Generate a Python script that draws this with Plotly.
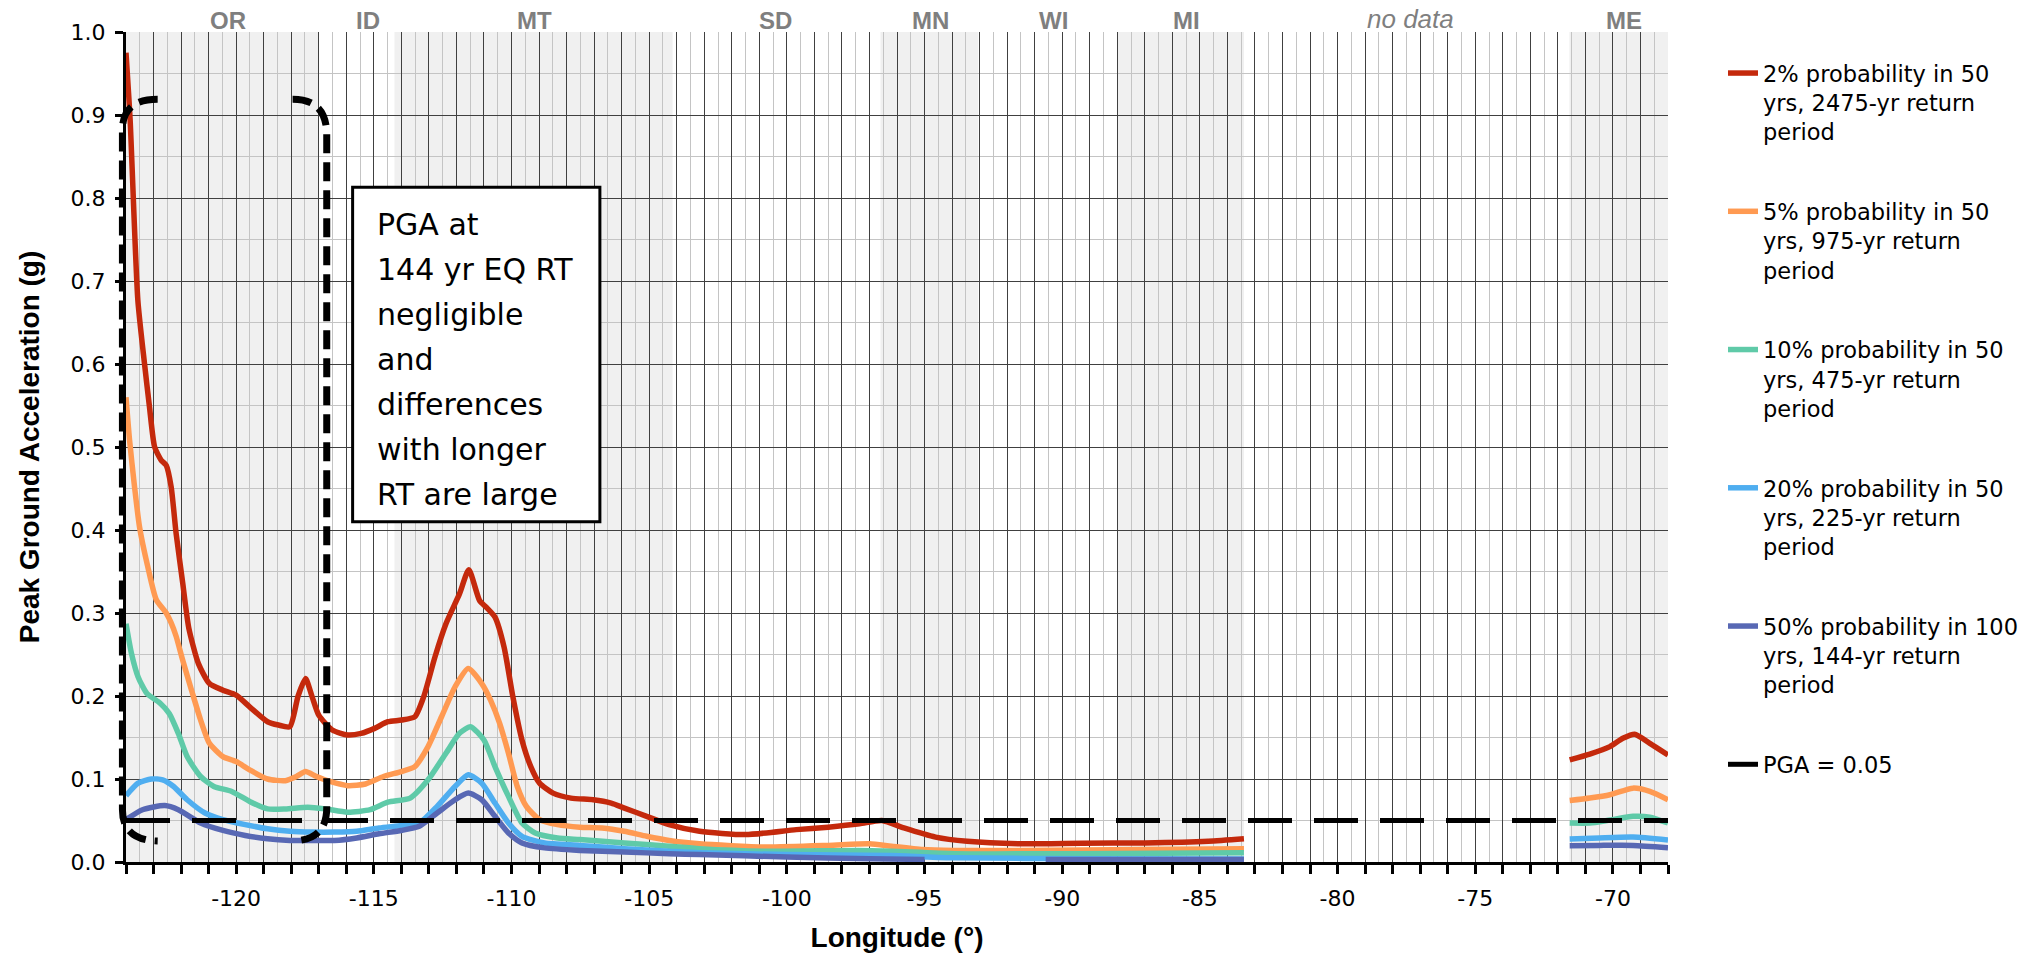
import plotly.graph_objects as go

# ---------------- data (longitude in degrees, PGA in g) ----------------
LON_MIN, LON_MAX = -124, -68

RED_W_LON = [-124.0, -123.85, -123.57, -123.33, -123.15, -122.96, -122.72, -122.54, -122.36, -122.18,
             -121.94, -121.72, -121.37, -120.97, -120.48, -120.0, -119.51, -118.86, -118.46, -118.05,
             -117.75, -117.48, -117.24, -117.0, -116.51, -115.95, -115.46, -114.97, -114.49, -114.0,
             -113.51, -113.19, -112.78, -112.38, -111.89, -111.55, -111.16, -110.92, -110.6, -110.27,
             -109.95, -109.62, -109.3, -108.98, -108.49, -107.84, -107.03, -106.38, -105.9, -105.09,
             -104.28, -103.17, -101.5, -99.66, -98.5, -97.36, -96.55, -95.75, -94.6, -93.45,
             -91.6, -89.3, -87.0, -84.7, -83.4]
RED_W_PGA = [0.975, 0.894, 0.677, 0.601, 0.549, 0.500, 0.484, 0.478, 0.452, 0.396,
             0.336, 0.282, 0.239, 0.215, 0.207, 0.201, 0.187, 0.169, 0.165, 0.163,
             0.200, 0.221, 0.199, 0.177, 0.159, 0.153, 0.155, 0.161, 0.169, 0.171,
             0.175, 0.199, 0.247, 0.287, 0.323, 0.352, 0.315, 0.307, 0.295, 0.259,
             0.199, 0.147, 0.115, 0.095, 0.083, 0.077, 0.075, 0.071, 0.065, 0.055,
             0.045, 0.037, 0.033, 0.039, 0.042, 0.046, 0.050, 0.041, 0.030, 0.025,
             0.022, 0.0226, 0.023, 0.025, 0.028]
RED_E_LON = [-71.57, -70.84, -70.11, -69.64, -69.21, -68.66, -68.0]
RED_E_PGA = [0.123, 0.130, 0.139, 0.149, 0.154, 0.143, 0.129]

ORANGE_W_LON = [-124.0, -123.87, -123.69, -123.51, -123.21, -122.9, -122.54, -122.36, -122.18, -121.94,
                -121.62, -121.29, -120.97, -120.48, -120.0, -119.51, -118.86, -118.21, -117.81, -117.48,
                -117.08, -116.59, -115.95, -115.3, -114.65, -114.0, -113.51, -113.03, -112.54, -112.05,
                -111.57, -111.08, -110.76, -110.43, -110.11, -109.79, -109.46, -108.98, -108.33, -107.52,
                -106.71, -105.9, -105.09, -104.28, -103.17, -100.8, -98.5, -97.0, -96.2, -95.06,
                -93.9, -91.6, -87.0, -83.4]
ORANGE_W_PGA = [0.56, 0.508, 0.452, 0.404, 0.356, 0.316, 0.300, 0.288, 0.272, 0.243,
                0.207, 0.171, 0.143, 0.127, 0.121, 0.111, 0.100, 0.098, 0.103, 0.109,
                0.103, 0.097, 0.092, 0.094, 0.103, 0.109, 0.115, 0.139, 0.175, 0.211,
                0.233, 0.215, 0.195, 0.167, 0.131, 0.091, 0.067, 0.051, 0.045, 0.042,
                0.041, 0.037, 0.031, 0.026, 0.022, 0.018, 0.020, 0.022, 0.019, 0.015,
                0.014, 0.014, 0.015, 0.016]
ORANGE_E_LON = [-71.57, -70.84, -70.11, -69.27, -68.66, -68.0]
ORANGE_E_PGA = [0.074, 0.077, 0.081, 0.089, 0.085, 0.075]

GREEN_W_LON = [-124.0, -123.8, -123.56, -123.24, -122.75, -122.43, -122.1, -121.78, -121.29, -120.81,
               -120.16, -119.51, -118.86, -118.21, -117.4, -116.76, -115.95, -115.13, -114.49, -113.68,
               -113.03, -112.38, -111.89, -111.49, -111.0, -110.6, -110.11, -109.62, -109.14, -108.33,
               -107.52, -105.9, -104.28, -103.17, -100.8, -97.4, -96.2, -93.9, -89.3, -83.4]
GREEN_W_PGA = [0.287, 0.251, 0.223, 0.203, 0.191, 0.179, 0.155, 0.127, 0.103, 0.091,
               0.085, 0.073, 0.064, 0.064, 0.066, 0.064, 0.060, 0.063, 0.072, 0.077,
               0.099, 0.131, 0.155, 0.163, 0.147, 0.115, 0.079, 0.047, 0.035, 0.029,
               0.027, 0.023, 0.019, 0.016, 0.013, 0.014, 0.013, 0.010, 0.010, 0.011]
GREEN_E_LON = [-71.57, -70.84, -70.11, -69.27, -68.66, -68.0]
GREEN_E_PGA = [0.047, 0.047, 0.0506, 0.055, 0.054, 0.047]

BLUE_W_LON = [-124.0, -123.56, -123.08, -122.67, -122.27, -121.78, -121.13, -120.48, -119.67, -118.86,
              -118.05, -117.24, -116.43, -115.62, -114.81, -114.0, -113.35, -112.7, -112.05, -111.57,
              -111.08, -110.6, -110.11, -109.62, -108.8, -107.52, -105.9, -104.28, -103.17, -100.0,
              -96.2, -93.9, -89.0, -83.4]
BLUE_W_PGA = [0.080, 0.095, 0.100, 0.099, 0.091, 0.075, 0.059, 0.051, 0.045, 0.040,
              0.037, 0.036, 0.036, 0.037, 0.041, 0.044, 0.047, 0.067, 0.091, 0.105,
              0.095, 0.071, 0.047, 0.031, 0.023, 0.020, 0.016, 0.013, 0.011, 0.009,
              0.0077, 0.005, 0.004, 0.0036]
BLUE_E_LON = [-71.57, -70.5, -69.27, -68.0]
BLUE_E_PGA = [0.0277, 0.029, 0.030, 0.0265]

PURPLE_W_LON = [-124.0, -123.4, -122.59, -122.1, -121.29, -120.48, -119.67, -118.86, -118.05, -117.24,
                -116.43, -115.62, -114.81, -114.0, -113.35, -112.7, -112.05, -111.57, -111.08, -110.6,
                -110.11, -109.62, -108.8, -107.52, -105.9, -104.28, -103.17, -100.0, -97.0, -95.0,
                None, -90.6, -87.0, -83.4]
PURPLE_W_PGA = [0.051, 0.063, 0.068, 0.063, 0.047, 0.038, 0.032, 0.028, 0.026, 0.026,
                0.026, 0.029, 0.034, 0.038, 0.043, 0.059, 0.075, 0.083, 0.075, 0.055,
                0.035, 0.023, 0.017, 0.014, 0.012, 0.010, 0.009, 0.006, 0.004, 0.003,
                None, 0.003, 0.003, 0.003]
PURPLE_E_LON = [-71.57, -70.5, -69.27, -68.0]
PURPLE_E_PGA = [0.0197, 0.020, 0.020, 0.0173]

PGA_LIMIT_LON = [-124, -68]
PGA_LIMIT = [0.05, 0.05]

SERIES_NAMES = [
    "2% probability in 50<br>yrs, 2475-yr return<br>period",
    "5% probability in 50<br>yrs, 975-yr return<br>period",
    "10% probability in 50<br>yrs, 475-yr return<br>period",
    "20% probability in 50<br>yrs, 225-yr return<br>period",
    "50% probability in 100<br>yrs, 144-yr return<br>period",
]
SERIES_COLORS = ["#C4290C", "#FF9A52", "#5FCAA8", "#4FAEF0", "#5868B4"]

# state labels along the top and shaded state bands
STATE_NAMES = ["OR", "ID", "MT", "SD", "MN", "WI", "MI", "no data", "ME"]
STATE_LABEL_LON = [-120.28, -115.22, -109.16, -100.4, -94.77, -90.3, -85.5, -77.36, -69.6]
SHADED_BANDS = [(-124.0, -117.0), (-114.25, -104.15), (-96.6, -93.05), (-88.0, -83.4), (-71.58, -68.0)]

X_TICKS = list(range(-124, -67))
X_TICK_TEXT = [str(v) if v % 5 == 0 else "" for v in X_TICKS]

NOTE_LINES = ["PGA at", "144 yr EQ RT", "negligible", "and", "differences", "with longer", "RT are large"]

# ---------------- figure ----------------
fig = go.Figure()

west_east = [
    (RED_W_LON, RED_W_PGA, RED_E_LON, RED_E_PGA),
    (ORANGE_W_LON, ORANGE_W_PGA, ORANGE_E_LON, ORANGE_E_PGA),
    (GREEN_W_LON, GREEN_W_PGA, GREEN_E_LON, GREEN_E_PGA),
    (BLUE_W_LON, BLUE_W_PGA, BLUE_E_LON, BLUE_E_PGA),
    (PURPLE_W_LON, PURPLE_W_PGA, PURPLE_E_LON, PURPLE_E_PGA),
]
for i, (wl, wv, el, ev) in enumerate(west_east):
    fig.add_trace(go.Scatter(
        x=wl + [None] + el, y=wv + [None] + ev,
        mode="lines", name=SERIES_NAMES[i], legendgroup=f"g{i}",
        line=dict(color=SERIES_COLORS[i], width=5.5, shape="spline", smoothing=0.6),
        connectgaps=False,
    ))

fig.add_trace(go.Scatter(
    x=PGA_LIMIT_LON, y=PGA_LIMIT, mode="lines", name="PGA = 0.05", legendgroup="g5",
    line=dict(color="black", width=5, dash="44px,22px"),
))

# shaded state bands
for a, b in SHADED_BANDS:
    fig.add_shape(type="rect", xref="x", yref="paper", x0=a, x1=b, y0=0, y1=1,
                  fillcolor="#F0F0F0", line=dict(width=0), layer="below")

# state labels
for name, lon in zip(STATE_NAMES, STATE_LABEL_LON):
    italic = name == "no data"
    fig.add_annotation(
        x=lon, y=1, xref="x", yref="paper", xanchor="center", yanchor="bottom", yshift=-4,
        text=name, showarrow=False,
        font=dict(family="Liberation Sans, Arial", size=26 if italic else 24, color="#7F7F7F",
                  weight="normal" if italic else "bold", style="italic" if italic else "normal"),
    )

# dashed brackets around the western region (defined in data units, drawn in paper units)
def to_paper(lon, val):
    return (lon - LON_MIN) / (LON_MAX - LON_MIN), val

def bracket_path(x_side, x_end, y_top, y_top_bend, y_bot_bend, y_bot):
    p = [to_paper(x_end, y_top), to_paper(x_side, y_top), to_paper(x_side, y_top_bend),
         to_paper(x_side, y_bot_bend), to_paper(x_side, y_bot + 0.001), to_paper(x_end, y_bot)]
    return (f"M{p[0][0]:.5f},{p[0][1]:.5f} Q{p[1][0]:.5f},{p[1][1]:.5f} {p[2][0]:.5f},{p[2][1]:.5f} "
            f"L{p[3][0]:.5f},{p[3][1]:.5f} Q{p[4][0]:.5f},{p[4][1]:.5f} {p[5][0]:.5f},{p[5][1]:.5f}")

for xs, xe, ytb, ybb in [(-124.13, -122.85, 0.882, 0.063), (-116.71, -117.95, 0.876, 0.065)]:
    fig.add_shape(type="path", xref="paper", yref="paper",
                  path=bracket_path(xs, xe, 0.919, ytb, ybb, 0.0253),
                  line=dict(color="black", width=7, dash="19px,9px"), layer="above")

# note box
fig.add_shape(type="rect", xref="x", yref="y", x0=-115.77, x1=-106.79, y0=0.41, y1=0.813,
              fillcolor="white", line=dict(color="black", width=3), layer="above")
for k, line in enumerate(NOTE_LINES):
    fig.add_annotation(x=-114.97, y=0.768 - k * 0.0542, xref="x", yref="y",
                       xanchor="left", yanchor="middle", text=line, showarrow=False,
                       font=dict(family="DejaVu Sans", size=30, color="black"))

fig.update_layout(
    width=2038, height=956,
    margin=dict(l=126, r=370, t=32, b=94),
    paper_bgcolor="white", plot_bgcolor="white",
    showlegend=True,
    legend=dict(x=1.0 + (1723 - 1668) / 1542, xanchor="left", y=0.976, yanchor="top",
                font=dict(family="DejaVu Sans", size=22.5, color="black"),
                tracegroupgap=47.5, itemwidth=30, valign="top", bgcolor="rgba(0,0,0,0)"),
    xaxis=dict(
        range=[LON_MIN, LON_MAX], tickmode="array", tickvals=X_TICKS, ticktext=X_TICK_TEXT,
        ticks="outside", ticklen=9, tickwidth=3, tickcolor="black",
        showline=True, linecolor="black", linewidth=3, automargin=False,
        showgrid=True, gridcolor="#404040", gridwidth=1, zeroline=False,
        minor=dict(tickmode="linear", tick0=LON_MIN, dtick=0.5, showgrid=True,
                   gridcolor="#C4C4C4", gridwidth=1, ticks=""),
        tickfont=dict(family="DejaVu Sans", size=22, color="black"),
        ticklabelstandoff=6,
        title=dict(text="Longitude (°)", standoff=17,
                   font=dict(family="Liberation Sans, Arial", size=28, color="black", weight="bold")),
    ),
    yaxis=dict(
        range=[0, 1], tickmode="linear", tick0=0, dtick=0.1, tickformat=".1f",
        ticks="outside", ticklen=8, tickwidth=3, tickcolor="black",
        showline=True, linecolor="black", linewidth=3, automargin=False,
        showgrid=True, gridcolor="#404040", gridwidth=1, zeroline=False,
        minor=dict(tickmode="linear", tick0=0, dtick=0.05, showgrid=True,
                   gridcolor="#C4C4C4", gridwidth=1, ticks=""),
        tickfont=dict(family="DejaVu Sans", size=22, color="black"),
        ticklabelstandoff=5,
        title=dict(text="Peak Ground Acceleration (g)", standoff=23,
                   font=dict(family="Liberation Sans, Arial", size=28, color="black", weight="bold")),
    ),
)

fig.write_html(
    "out.html",
    config={"displayModeBar": False},
    post_script="document.body.style.margin='0';document.body.style.overflow='hidden';",
)
